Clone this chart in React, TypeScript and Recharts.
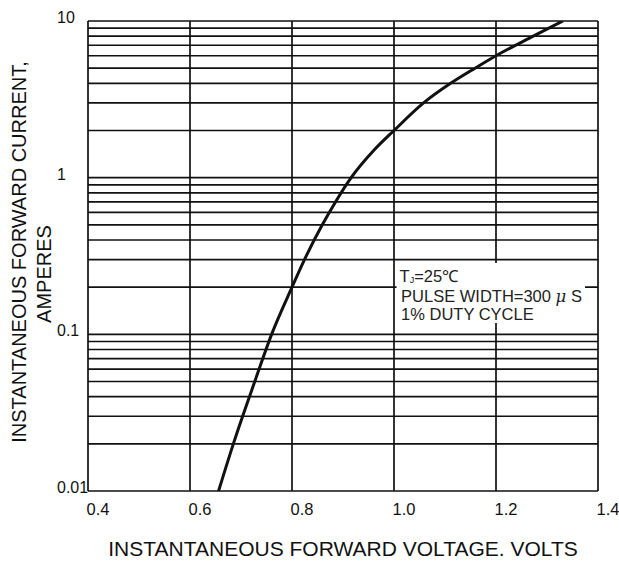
import React from 'react';
import {
  LineChart,
  Line,
  XAxis,
  YAxis,
  CartesianGrid,
  ReferenceArea,
  Customized,
} from 'recharts';

// forward voltage (V) vs instantaneous current (A)
const VOLTAGE = [0.656, 0.685, 0.727, 0.76, 0.8, 0.8245, 0.8594, 0.8853, 0.916, 0.961, 1.0, 1.058, 1.111, 1.159, 1.2, 1.273, 1.331];
const CURRENT = [0.01, 0.02, 0.05, 0.1, 0.2, 0.3, 0.5, 0.7, 1, 1.5, 2, 3, 4, 5, 6, 8, 10];

const X_TICKS = [0.4, 0.6, 0.8, 1.0, 1.2, 1.4];
const X_LABELS = ['0.4', '0.6', '0.8', '1.0', '1.2', '1.4'];
const Y_GRID = [
  0.01, 0.02, 0.03, 0.04, 0.05, 0.06, 0.07, 0.08, 0.09,
  0.1, 0.2, 0.3, 0.4, 0.5, 0.6, 0.7, 0.8, 0.9,
  1, 2, 3, 4, 5, 6, 7, 8, 9, 10,
];
const Y_LABELS: Record<string, string> = { '0.01': '0.01', '0.1': '0.1', '1': '1', '10': '10' };

const NOTE_BOX = { x1: 1.005, x2: 1.3745, y1: 0.118, y2: 0.285 };

const FONT = '"Liberation Sans", Arial, sans-serif';

const data = VOLTAGE.map((v, idx) => ({ v, i: CURRENT[idx] }));

const XTick = (props: any) => {
  const { x, y, payload } = props;
  const idx = X_TICKS.indexOf(payload.value);
  return (
    <text x={x - 1.5} y={y + 24} textAnchor="start" fontSize={16.5} fontFamily={FONT} fill="#111">
      {idx >= 0 ? X_LABELS[idx] : ''}
    </text>
  );
};

const YTick = (props: any) => {
  const { y, payload } = props;
  const label = Y_LABELS[String(payload.value)];
  if (!label) return null;
  return (
    <text x={57} y={y + 2} textAnchor="start" fontSize={16} fontFamily={FONT} fill="#111">
      {label}
    </text>
  );
};

const NoteLabel = (props: any) => {
  const vb = props.viewBox || {};
  const x0 = vb.x ?? 397;
  const y0 = vb.y ?? 263;
  return (
    <g fontFamily={FONT} fill="#222" fontSize={16.5}>
      <text x={x0 + 3} y={y0 + 18.5}>
        T<tspan fontSize={9} dy={1}>J</tspan>
        <tspan dy={-1}>=25℃</tspan>
      </text>
      <text x={x0 + 4.5} y={y0 + 38.5}>
        PULSE WIDTH=300 <tspan fontFamily="DejaVu Serif, serif" fontStyle="italic">μ</tspan> S
      </text>
      <text x={x0 + 4.5} y={y0 + 57}>
        1% DUTY CYCLE
      </text>
    </g>
  );
};

const Titles = () => (
  <g fontFamily={FONT} fill="#111">
    <text x={343} y={556} textAnchor="middle" fontSize={21}>
      INSTANTANEOUS FORWARD VOLTAGE. VOLTS
    </text>
    <text
      x={18.5}
      y={252}
      textAnchor="middle"
      dominantBaseline="central"
      fontSize={20}
      transform="rotate(-90 18.5 252)"
    >
      INSTANTANEOUS FORWARD CURRENT,
    </text>
    <text
      x={43.5}
      y={274}
      textAnchor="middle"
      dominantBaseline="central"
      fontSize={20}
      transform="rotate(-90 43.5 274)"
    >
      AMPERES
    </text>
  </g>
);

const App: React.FC = () => {
  return (
    <div style={{ position: 'absolute', left: 0, top: 0, background: '#fff' }}>
      <LineChart
        width={619}
        height={563}
        data={data}
        margin={{ top: 21, right: 21, bottom: 0, left: 0 }}
      >
        <CartesianGrid stroke="#111" strokeWidth={1.7} />
        <XAxis
          dataKey="v"
          type="number"
          domain={[0.4, 1.4]}
          ticks={X_TICKS}
          allowDataOverflow
          height={72}
          tickSize={0}
          tickMargin={0}
          axisLine={false}
          tick={<XTick />}
        />
        <YAxis
          dataKey="i"
          type="number"
          scale="log"
          domain={[0.01, 10]}
          ticks={Y_GRID}
          allowDataOverflow
          width={88}
          tickSize={0}
          tickMargin={0}
          axisLine={false}
          interval={0}
          tick={<YTick />}
        />
        <ReferenceArea
          x1={NOTE_BOX.x1}
          x2={NOTE_BOX.x2}
          y1={NOTE_BOX.y1}
          y2={NOTE_BOX.y2}
          fill="#fff"
          fillOpacity={1}
          stroke="none"
          label={<NoteLabel />}
        />
        <Line
          dataKey="i"
          type="monotone"
          stroke="#111"
          strokeWidth={3}
          dot={false}
          isAnimationActive={false}
        />
        <Customized component={Titles} />
      </LineChart>
    </div>
  );
};

export default App;
